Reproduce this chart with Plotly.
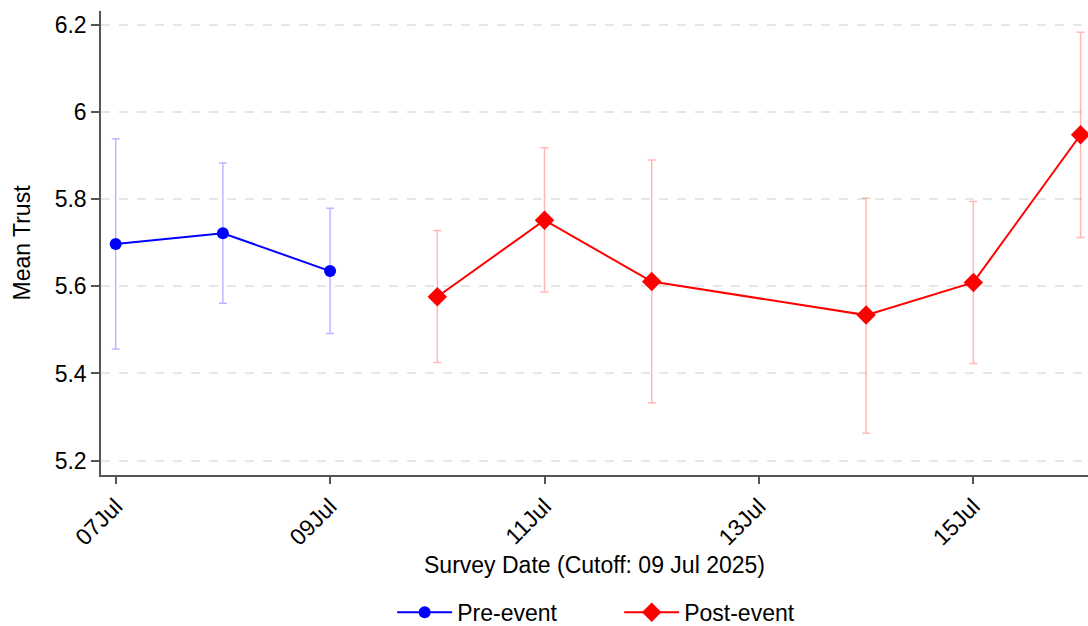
import plotly.graph_objects as go

pre_dates = ["2025-07-07", "2025-07-08", "2025-07-09"]
pre_mean = [5.697, 5.722, 5.635]
pre_upper = [5.939, 5.883, 5.779]
pre_lower = [5.456, 5.561, 5.492]

post_dates = ["2025-07-10", "2025-07-11", "2025-07-12", "2025-07-14", "2025-07-15", "2025-07-16"]
post_mean = [5.576, 5.752, 5.611, 5.534, 5.609, 5.948]
post_upper = [5.728, 5.918, 5.890, 5.802, 5.795, 6.183]
post_lower = [5.425, 5.587, 5.333, 5.263, 5.423, 5.712]

y_ticks = [5.2, 5.4, 5.6, 5.8, 6.0, 6.2]
y_tick_text = ["5.2", "5.4", "5.6", "5.8", "6", "6.2"]

FONT = "Liberation Sans, Arial, Helvetica, sans-serif"
FS = 23

fig = go.Figure()

fig.add_trace(go.Scatter(
    x=pre_dates, y=pre_mean, mode="lines+markers", name="Pre-event",
    line=dict(color="#0000ff", width=2),
    marker=dict(symbol="circle", size=12, color="#0000ff"),
    error_y=dict(type="data", symmetric=False,
                 array=[u - m for u, m in zip(pre_upper, pre_mean)],
                 arrayminus=[m - l for m, l in zip(pre_mean, pre_lower)],
                 color="rgba(0,0,255,0.28)", thickness=1.5, width=4),
))

fig.add_trace(go.Scatter(
    x=post_dates, y=post_mean, mode="lines+markers", name="Post-event",
    line=dict(color="#ff0000", width=2),
    marker=dict(symbol="diamond", size=15, color="#ff0000"),
    error_y=dict(type="data", symmetric=False,
                 array=[u - m for u, m in zip(post_upper, post_mean)],
                 arrayminus=[m - l for m, l in zip(post_mean, post_lower)],
                 color="rgba(255,0,0,0.28)", thickness=1.5, width=4),
))

fig.update_layout(
    width=1088, height=626,
    margin=dict(l=101, r=0, t=11, b=151),
    paper_bgcolor="white", plot_bgcolor="white",
    font=dict(family=FONT, size=FS, color="#000000"),
    showlegend=True,
    legend=dict(orientation="h", x=0.525, xanchor="center",
                yref="container", y=0.022, yanchor="middle",
                font=dict(size=FS), itemwidth=55, entrywidth=157),
    xaxis=dict(
        type="date", automargin=False,
        range=["2025-07-06 20:43", "2025-07-16 01:40"],
        tick0="2025-07-07", dtick=2 * 86400000, tickformat="%d%b",
        tickangle=-45, ticks="outside", ticklen=7, tickcolor="#555555", tickwidth=1.5,
        showline=True, linecolor="#555555", linewidth=1.5, mirror=False,
        showgrid=False, zeroline=False,
        title=dict(text="Survey Date (Cutoff: 09 Jul 2025)", font=dict(size=FS), standoff=8),
        tickfont=dict(size=FS),
    ),
    yaxis=dict(
        range=[5.167, 6.232], automargin=False,
        tickvals=y_ticks, ticktext=y_tick_text,
        ticks="outside", ticklen=8, tickcolor="#555555", tickwidth=1.5,
        showline=True, linecolor="#555555", linewidth=1.5,
        showgrid=True, gridcolor="#e6e6e6", gridwidth=1.5, griddash="dash",
        zeroline=False,
        title=dict(text="Mean Trust", font=dict(size=FS), standoff=18),
        tickfont=dict(size=FS),
    ),
)

fig.write_html("out.html", config={"displayModeBar": False},
               post_script="document.body.style.margin='0';document.body.style.overflow='hidden';")
